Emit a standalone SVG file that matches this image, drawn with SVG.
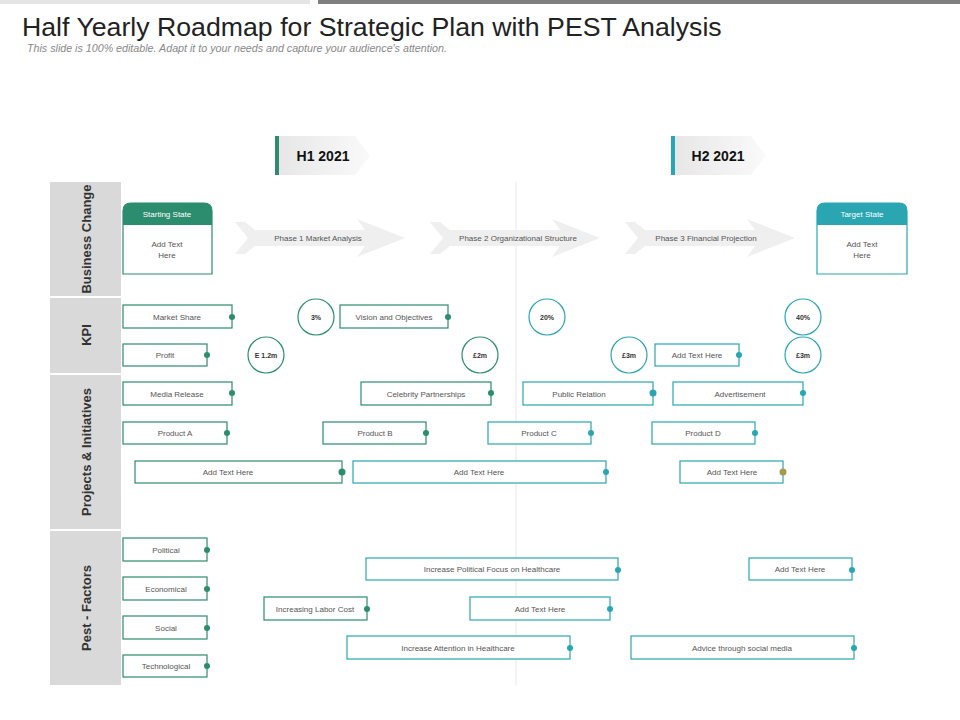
<svg xmlns="http://www.w3.org/2000/svg" width="960" height="720" viewBox="0 0 960 720">
<defs>
<linearGradient id="tabg" x1="0" x2="1"><stop offset="0" stop-color="#e6e6e6"/><stop offset="1" stop-color="#fafafa"/></linearGradient>
<style>
text{font-family:"Liberation Sans",Arial,sans-serif}
.t{font-size:8px;fill:#555;text-anchor:middle}
.g{fill:#fff;stroke:#2b8c6e;stroke-width:1.2}
.c{fill:#fff;stroke:#2aa5b2;stroke-width:1.2}
.dg{fill:#2b8c6e}.dc{fill:#2aa5b2}
.lane{fill:#d9d9d9}
.ll{font-size:13px;font-weight:bold;fill:#333;text-anchor:middle}
.ph{fill:#efefef}
.cir{font-size:7px;font-weight:bold;fill:#333;text-anchor:middle}
</style>
</defs>
<rect x="0" y="0" width="310" height="4" fill="#e5e5e5"/>
<rect x="318" y="0" width="642" height="4" fill="#7f7f7f"/>
<text x="22" y="36" font-size="26.7" fill="#222">Half Yearly Roadmap for Strategic Plan with PEST Analysis</text>
<text x="27" y="52" font-size="10.7" font-style="italic" fill="#888">This slide is 100% editable. Adapt it to your needs and capture your audience's attention.</text>
<line x1="516" y1="182" x2="516" y2="685" stroke="#e8e8e8"/>
<g id="lanes">
<rect class="lane" x="50" y="182" width="71" height="114"/>
<rect class="lane" x="50" y="298" width="71" height="75"/>
<rect class="lane" x="50" y="375" width="71" height="154"/>
<rect class="lane" x="50" y="531" width="71" height="154"/>
<text class="ll" transform="translate(91,239) rotate(-90)">Business Change</text>
<text class="ll" transform="translate(91,335) rotate(-90)">KPI</text>
<text class="ll" transform="translate(91,452) rotate(-90)">Projects &amp; Initiatives</text>
<text class="ll" transform="translate(91,608) rotate(-90)">Pest - Factors</text>
</g>
<g id="h1"><path d="M275,136 H355 L370,155.5 L355,175 H275Z" fill="url(#tabg)"/><rect x="275" y="136" width="4" height="39" fill="#2b8c6e"/><text x="323" y="161" font-size="14" font-weight="bold" text-anchor="middle" fill="#111">H1 2021</text></g>
<g id="h2"><path d="M671,136 H751 L766,155.5 L751,175 H671Z" fill="url(#tabg)"/><rect x="671" y="136" width="4" height="39" fill="#2aa5b2"/><text x="718" y="161" font-size="14" font-weight="bold" text-anchor="middle" fill="#111">H2 2021</text></g>
<g id="start"><path d="M123,274 V211 Q123,203 131,203 H204 Q212,203 212,211 V274Z" class="g"/><path d="M123,225 V211 Q123,203 131,203 H204 Q212,203 212,211 V225Z" fill="#2b8c6e"/><text x="167" y="217" class="t" style="fill:#fff">Starting State</text><text x="167" y="247" class="t">Add Text</text><text x="167" y="258" class="t">Here</text></g>
<g id="target"><path d="M817,274 V211 Q817,203 825,203 H899 Q907,203 907,211 V274Z" class="c"/><path d="M817,225 V211 Q817,203 825,203 H899 Q907,203 907,211 V225Z" fill="#2aa5b2"/><text x="862" y="217" class="t" style="fill:#fff">Target State</text><text x="862" y="247" class="t">Add Text</text><text x="862" y="258" class="t">Here</text></g>
<g id="phases">
<path class="ph" d="M235,222 H245 L255,230 H365 L357,219 L405,238 L357,257 L365,246 H255 L245,254 H235 L248,238Z"/><text x="318" y="241" class="t">Phase 1 Market Analysis</text>
<path class="ph" d="M430,222 H440 L450,230 H560 L552,219 L600,238 L552,257 L560,246 H450 L440,254 H430 L443,238Z"/><text x="518" y="241" class="t">Phase 2 Organizational Structure</text>
<path class="ph" d="M625,222 H635 L645,230 H755 L747,219 L795,238 L747,257 L755,246 H645 L635,254 H625 L638,238Z"/><text x="706" y="241" class="t">Phase 3 Financial Projection</text>
</g>
<g id="kpi">
<rect class="g" x="123" y="305" width="109" height="23"/><text x="177" y="320" class="t">Market Share</text><circle class="dg" cx="232" cy="317" r="3"/>
<rect class="g" x="123" y="344" width="84" height="22"/><text x="165" y="358" class="t">Profit</text><circle class="dg" cx="207" cy="355" r="3"/>
<rect class="g" x="340" y="305" width="108" height="23"/><text x="394" y="320" class="t">Vision and Objectives</text><circle class="dg" cx="448" cy="317" r="3"/>
<rect class="c" x="655" y="344" width="84" height="22"/><text x="697" y="358" class="t">Add Text Here</text><circle class="dc" cx="739" cy="355" r="3"/>
<circle class="g" cx="316" cy="317" r="18"/><text x="316" y="320" class="cir">3%</text>
<circle class="g" cx="266" cy="355" r="18"/><text x="266" y="358" class="cir">E 1.2m</text>
<circle class="g" cx="480" cy="355" r="18"/><text x="480" y="358" class="cir">£2m</text>
<circle class="c" cx="547" cy="317" r="18"/><text x="547" y="320" class="cir">20%</text>
<circle class="c" cx="629" cy="355" r="18"/><text x="629" y="358" class="cir">£3m</text>
<circle class="c" cx="803" cy="317" r="18"/><text x="803" y="320" class="cir">40%</text>
<circle class="c" cx="803" cy="355" r="18"/><text x="803" y="358" class="cir">£3m</text>
</g>
<g id="projects">
<rect class="g" x="123" y="382" width="109" height="23"/><text x="177" y="397" class="t">Media Release</text><circle class="dg" cx="232" cy="393" r="3"/>
<rect class="g" x="361" y="382" width="130" height="23"/><text x="426" y="397" class="t">Celebrity  Partnerships</text><circle class="dg" cx="491" cy="393" r="3"/>
<rect class="c" x="523" y="382" width="130" height="23"/><text x="579" y="397" class="t">Public Relation</text><circle class="dc" cx="653" cy="393" r="3.5"/>
<rect class="c" x="673" y="382" width="130" height="23"/><text x="740" y="397" class="t">Advertisement</text><circle class="dc" cx="803" cy="393" r="3"/>
<rect class="g" x="123" y="422" width="104" height="22"/><text x="175" y="436" class="t">Product A</text><circle class="dg" cx="227" cy="433" r="3"/>
<rect class="g" x="323" y="422" width="103" height="22"/><text x="375" y="436" class="t">Product B</text><circle class="dg" cx="426" cy="433" r="3"/>
<rect class="c" x="488" y="422" width="103" height="22"/><text x="539" y="436" class="t">Product C</text><circle class="dc" cx="591" cy="433" r="3"/>
<rect class="c" x="652" y="422" width="103" height="22"/><text x="703" y="436" class="t">Product D</text><circle class="dc" cx="755" cy="433" r="3"/>
<rect class="g" x="135" y="461" width="207" height="22"/><text x="228" y="475" class="t">Add Text Here</text><circle class="dg" cx="342" cy="472" r="3.5"/>
<rect class="c" x="353" y="461" width="253" height="22"/><text x="479" y="475" class="t">Add Text Here</text><circle class="dc" cx="606" cy="472" r="3"/>
<rect class="c" x="680" y="461" width="103" height="22"/><text x="732" y="475" class="t">Add Text Here</text><circle cx="783" cy="472" r="3.5" fill="#a39a4a"/>
</g>
<g id="pest">
<rect class="g" x="123" y="538" width="84" height="23"/><text x="166" y="553" class="t">Political</text><circle class="dg" cx="207" cy="550" r="3"/>
<rect class="g" x="123" y="577" width="84" height="23"/><text x="166" y="592" class="t">Economical</text><circle class="dg" cx="207" cy="589" r="3"/>
<rect class="g" x="123" y="616" width="84" height="23"/><text x="166" y="631" class="t">Social</text><circle class="dg" cx="207" cy="628" r="3"/>
<rect class="g" x="123" y="655" width="84" height="22"/><text x="166" y="669" class="t">Technological</text><circle class="dg" cx="207" cy="666" r="3"/>
<rect class="c" x="366" y="558" width="252" height="22"/><text x="492" y="572" class="t">Increase  Political Focus on Healthcare</text><circle class="dc" cx="618" cy="570" r="3"/>
<rect class="c" x="749" y="558" width="103" height="22"/><text x="800" y="572" class="t">Add Text Here</text><circle class="dc" cx="852" cy="570" r="3"/>
<rect class="g" x="264" y="597" width="103" height="23"/><text x="315" y="612" class="t">Increasing Labor Cost</text><circle class="dg" cx="367" cy="609" r="3"/>
<rect class="c" x="470" y="597" width="140" height="23"/><text x="540" y="612" class="t">Add Text Here</text><circle class="dc" cx="610" cy="609" r="3"/>
<rect class="c" x="347" y="636" width="223" height="23"/><text x="458" y="651" class="t">Increase  Attention  in Healthcare</text><circle class="dc" cx="570" cy="648" r="3"/>
<rect class="c" x="631" y="636" width="223" height="23"/><text x="742" y="651" class="t">Advice through social media</text><circle class="dc" cx="854" cy="648" r="3"/>
</g>
<g id="connectors"/>
</svg>
